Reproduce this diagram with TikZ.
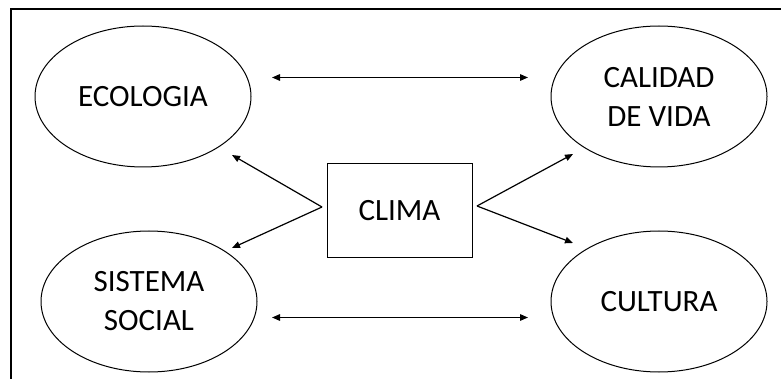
\documentclass[tikz,border=0pt]{standalone}
\usepackage{fontspec}
\setmainfont{Carlito}
\usetikzlibrary{shapes.geometric,arrows.meta}
\begin{document}
\begin{tikzpicture}[x=1pt,y=-1pt,
  bubble/.style={draw, ellipse, line width=1pt, inner sep=0pt,
    minimum width=216pt, minimum height=141pt, align=center,
    font=\fontsize{31}{39}\selectfont},
  centerbox/.style={draw, rectangle, line width=1pt, inner sep=0pt,
    minimum width=145pt, minimum height=93pt,
    font=\fontsize{31}{39}\selectfont},
  arr/.style={line width=1.2pt, -{Triangle[length=8pt,width=6.5pt]}},
  biarr/.style={line width=1.4pt, {Triangle[length=8pt,width=6.5pt]}-{Triangle[length=8pt,width=6.5pt]}},
  frameline/.style={line width=1.5pt}]
\useasboundingbox (0,0) rectangle (781,379);

% outer frame (left and top edges)
\coordinate (fbl) at (11,380);
\coordinate (ftl) at (11,9);
\coordinate (ftr) at (782,9);
\draw[frameline] (fbl) -- (ftl) -- (ftr);

% nodes
\node[bubble] (eco) at (143,96.5) {ECOLOGIA};
\node[bubble] (cal) at (659,96.5) {CALIDAD\\DE VIDA};
\node[bubble] (soc) at (149,301.5) {SISTEMA\\SOCIAL};
\node[bubble] (cul) at (659,301.5) {CULTURA};
\node[centerbox] (clima) at (399.5,210.5) {CLIMA};

% arrow start and end points
\coordinate (cl) at (322,207);
\coordinate (cr) at (477,206);
\coordinate (teco) at (232,155);
\coordinate (tsoc) at (232,248);
\coordinate (tcal) at (573,154);
\coordinate (tcul) at (573,243);
\coordinate (hl1) at (272,77.5);
\coordinate (hr1) at (528,77.5);
\coordinate (hl2) at (272,317.5);
\coordinate (hr2) at (528,317.5);

% connectors
\draw[arr] (cl) -- (teco);
\draw[arr] (cl) -- (tsoc);
\draw[arr] (cr) -- (tcal);
\draw[arr] (cr) -- (tcul);
\draw[biarr] (hl1) -- (hr1);
\draw[biarr] (hl2) -- (hr2);
\end{tikzpicture}
\end{document}
